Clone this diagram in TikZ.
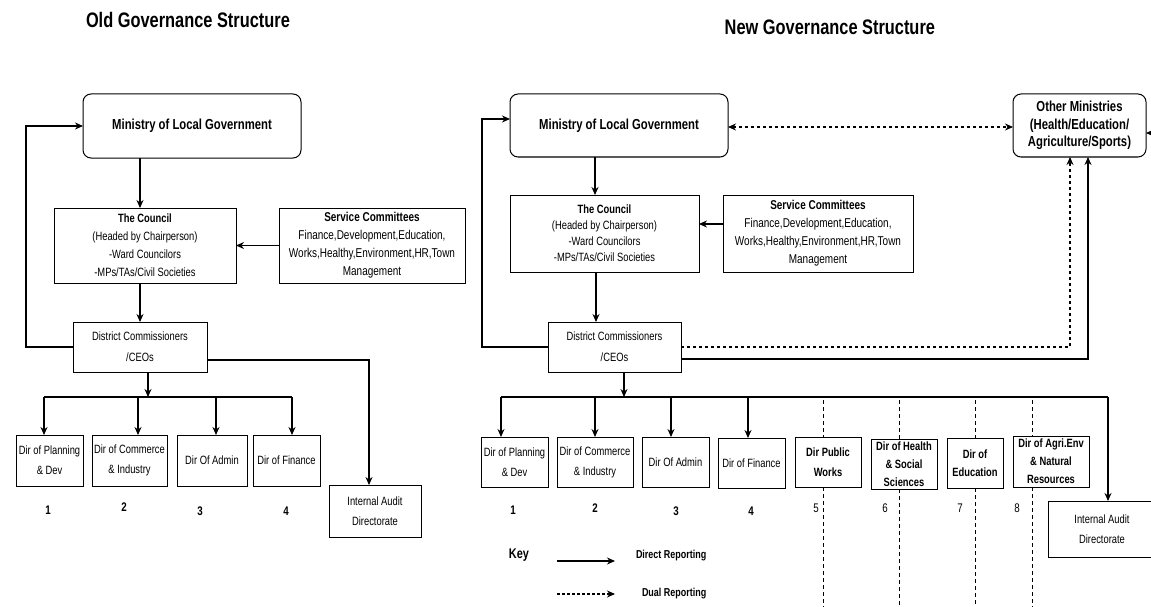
\documentclass[tikz,border=0pt]{standalone}
\usepackage{fontspec}
\setmainfont{Liberation Sans}[FakeStretch=0.78]
\usetikzlibrary{arrows.meta,calc}
\begin{document}
\begin{tikzpicture}[x=1pt,y=-1pt,
  every node/.style={inner sep=0pt, outer sep=0pt},
  box/.style={draw, line width=1pt, align=center, font=\fontsize{12}{18}\selectfont},
  svcbox/.style={box, font=\fontsize{12.8}{18}\selectfont},
  dirbox/.style={box, minimum height=50pt, font=\fontsize{12}{20}\selectfont},
  bdirbox/.style={box, minimum height=50pt, font=\bfseries\fontsize{12}{18}\selectfont},
  rbox/.style={draw, line width=1pt, rounded corners=8pt, align=center},
  conn/.style={line width=1.1pt},
  arr/.style={conn, -{Stealth[length=8pt,width=7pt]}},
  dualarr/.style={conn, {Stealth[length=8pt,width=7pt]}-{Stealth[length=8pt,width=7pt]}, dash pattern=on 3pt off 3pt},
  dsh/.style={conn, line width=0.9pt, dash pattern=on 4pt off 3pt},
  num/.style={font=\bfseries\fontsize{12.5}{15}\selectfont},
  numr/.style={font=\fontsize{12.5}{15}\selectfont},
  ttl/.style={font=\bfseries\fontsize{21}{24}\selectfont},
  mtext/.style={font=\bfseries\fontsize{14.5}{17.5}\selectfont},
]
\useasboundingbox (0,0) rectangle (1151,607);

% ---------------- titles
\node[ttl, anchor=base west] (tOld) at (86,28) {Old Governance Structure};
\node[ttl, anchor=base east] (tNew) at (935,35) {New Governance Structure};

% ================= OLD STRUCTURE
\node[rbox, mtext, minimum width=218pt, minimum height=64pt] (minOld) at (192,126) {Ministry of Local Government};
\node[box, minimum width=182pt, minimum height=75pt] (councilOld) at (145,245.5)
  {\textbf{The Council}\\(Headed by Chairperson)\\-Ward Councilors\\-MPs/TAs/Civil Societies};
\node[svcbox, minimum width=186pt, minimum height=75pt] (serviceOld) at (372,245.5)
  {\textbf{Service Committees}\\Finance,Development,Education,\\Works,Healthy,Environment,HR,Town\\Management};
\node[box, minimum width=134pt, minimum height=50pt, font=\fontsize{12}{21}\selectfont] (dcOld) at (140,347)
  {District Commissioners\\/CEOs};
\node[dirbox, minimum width=67pt, minimum height=51pt] (planOld) at (49.5,460.5) {Dir of Planning\\\& Dev};
\node[dirbox, minimum width=75pt, minimum height=51pt] (commOld) at (129.5,460.5) {Dir of Commerce\\\& Industry};
\node[dirbox, minimum width=70pt, minimum height=51pt] (adminOld) at (212,460.5) {Dir Of Admin};
\node[dirbox, minimum width=67pt, minimum height=51pt] (finOld) at (286.5,460.5) {Dir of Finance};
\node[dirbox, minimum width=92pt, minimum height=52pt] (auditOld) at (375,511) {Internal Audit\\Directorate};

\node[num] (n1o) at (48,510) {1};
\node[num] (n2o) at (124,507) {2};
\node[num] (n3o) at (200,511) {3};
\node[num] (n4o) at (286,511) {4};

\coordinate (brOld) at (148,397);
\coordinate (brOldL) at (44,397);
\coordinate (brOldR) at (292,397);
\coordinate (aOld) at (140,0);

\draw[arr] (aOld |- minOld.south) -- (aOld |- councilOld.north);
\draw[arr] (serviceOld.west) -- (councilOld.east);
\draw[arr] (aOld |- councilOld.south) -- (dcOld.north);
\draw[arr] (dcOld.west) -- ++(-47,0) |- (minOld.west);
\draw[arr] ([yshift=-13pt]dcOld.east) -| ([xshift=-6pt]auditOld.north);
\draw[arr] (brOld |- dcOld.south) -- (brOld);
\draw[conn] (brOldL) -- (brOldR);
\draw[arr] (brOldL) -- ([xshift=-5.5pt]planOld.north);
\draw[arr] ([xshift=8.5pt]commOld.north |- brOld) -- ([xshift=8.5pt]commOld.north);
\draw[arr] ([xshift=4pt]adminOld.north |- brOld) -- ([xshift=4pt]adminOld.north);
\draw[arr] (brOldR) -- ([xshift=5.5pt]finOld.north);

% ================= NEW STRUCTURE
\node[rbox, mtext, minimum width=218pt, minimum height=63pt] (minNew) at (619,125.5) {Ministry of Local Government};
\node[rbox, mtext, minimum width=133pt, minimum height=63pt] (otherMin) at (1079.5,125.5)
  {Other Ministries\\(Health/Education/\\Agriculture/Sports)};
\node[box, minimum width=189pt, minimum height=77pt, font=\fontsize{12}{16}\selectfont] (councilNew) at (604.5,233.5)
  {\textbf{The Council}\\(Headed by Chairperson)\\-Ward Councilors\\-MPs/TAs/Civil Societies};
\node[svcbox, minimum width=190pt, minimum height=77pt] (serviceNew) at (818,233.5)
  {\textbf{Service Committees}\\Finance,Development,Education,\\Works,Healthy,Environment,HR,Town\\Management};
\node[box, minimum width=133pt, minimum height=50pt, font=\fontsize{12}{21}\selectfont] (dcNew) at (614.5,347)
  {District Commissioners\\/CEOs};

\node[dirbox, minimum width=67pt] (planNew) at (514.5,462) {Dir of Planning\\\& Dev};
\node[dirbox, minimum width=76pt] (commNew) at (595,462) {Dir of Commerce\\\& Industry};
\node[dirbox, minimum width=67pt] (adminNew) at (675.5,462) {Dir Of Admin};
\node[dirbox, minimum width=67pt] (finNew) at (751.5,463) {Dir of Finance};
\node[bdirbox, minimum width=66pt, font=\bfseries\fontsize{12}{20}\selectfont] (pubWorks) at (828,462) {Dir Public\\Works};
\node[bdirbox, minimum width=66pt] (health) at (904,464) {Dir of Health\\\& Social\\Sciences};
\node[bdirbox, minimum width=56pt] (educ) at (975,463) {Dir of\\Education};
\node[bdirbox, minimum width=76pt, minimum height=51pt] (agri) at (1051,461.5) {Dir of Agri.Env\\\& Natural\\Resources};
\node[dirbox, minimum width=108pt, minimum height=56pt] (auditNew) at (1102,529) {Internal Audit\\Directorate};

\node[num] (n1n) at (513,510) {1};
\node[num] (n2n) at (595,508) {2};
\node[num] (n3n) at (676,511) {3};
\node[num] (n4n) at (751,511) {4};
\node[numr] (n5n) at (816,508) {5};
\node[numr] (n6n) at (885,508) {6};
\node[numr] (n7n) at (960,508) {7};
\node[numr] (n8n) at (1017,508) {8};

% connectors new
\coordinate (aNew) at (595,0);
\coordinate (bNew) at (596,0);
\draw[arr] (aNew |- minNew.south) -- (aNew |- councilNew.north);
\draw[arr] ([yshift=9.5pt]serviceNew.west) -- ([yshift=9.5pt]councilNew.east);
\draw[arr] (bNew |- councilNew.south) -- (bNew |- dcNew.north);
\draw[arr] (dcNew.west) -- ++(-66,0) |- ([yshift=6.5pt]minNew.west);
\draw[arr] ([yshift=-12pt]dcNew.east) -| ([xshift=8.5pt]otherMin.south);
\draw[arr, dash pattern=on 3pt off 3pt] (dcNew.east) -| ([xshift=-9.5pt]otherMin.south);
\draw[dualarr] ([yshift=-1.5pt]minNew.east) -- ([yshift=-1.5pt]otherMin.west);
\coordinate (offR) at (1175,133);
\draw[arr] (offR) -- (otherMin.east |- offR);

\coordinate (brNew) at (624,397);
\coordinate (brNewL) at (501,397);
\coordinate (brNewR) at (1108,397);
\draw[arr] (brNew |- dcNew.south) -- (brNew);
\draw[conn] (brNewL) -- (brNewR);
\draw[arr] (brNewR) -- (brNewR |- auditNew.north);
\draw[arr] (brNewL) -- (brNewL |- planNew.north);
\draw[arr] (commNew.north |- brNew) -- (commNew.north);
\draw[arr] ([xshift=-4.5pt]adminNew.north |- brNew) -- ([xshift=-4.5pt]adminNew.north);
\draw[arr] ([xshift=-3.5pt]finNew.north |- brNew) -- ([xshift=-3.5pt]finNew.north);

% dashed verticals
\coordinate (d5) at (823,400);
\coordinate (d6) at (899,400);
\coordinate (d7) at (975,400);
\coordinate (d8) at (1032,400);
\coordinate (dbot) at (0,610);
\draw[dsh] (d5) -- (d5 |- pubWorks.north);
\draw[dsh] (d5 |- pubWorks.south) -- (d5 |- dbot);
\draw[dsh] (d6) -- (d6 |- health.north);
\draw[dsh] (d6 |- health.south) -- (d6 |- dbot);
\draw[dsh] (d7) -- (d7 |- educ.north);
\draw[dsh] (d7 |- educ.south) -- (d7 |- dbot);
\draw[dsh] (d8) -- (d8 |- agri.north);
\draw[dsh] (d8 |- agri.south) -- (d8 |- dbot);

% key
\node[font=\bfseries\fontsize{14}{16}\selectfont] (key) at (519,555) {Key};
\coordinate (k1a) at (557,561);
\coordinate (k1b) at (615,561);
\draw[arr] (k1a) -- (k1b);
\node[font=\bfseries\fontsize{11.5}{14}\selectfont, anchor=west] (kdir) at (636,556) {Direct Reporting};
\coordinate (k2a) at (557,594);
\coordinate (k2b) at (615,594);
\draw[arr, dash pattern=on 3pt off 2pt] (k2a) -- (k2b);
\node[font=\bfseries\fontsize{11.5}{14}\selectfont, anchor=west] (kdual) at (642,594) {Dual Reporting};
\end{tikzpicture}
\end{document}
